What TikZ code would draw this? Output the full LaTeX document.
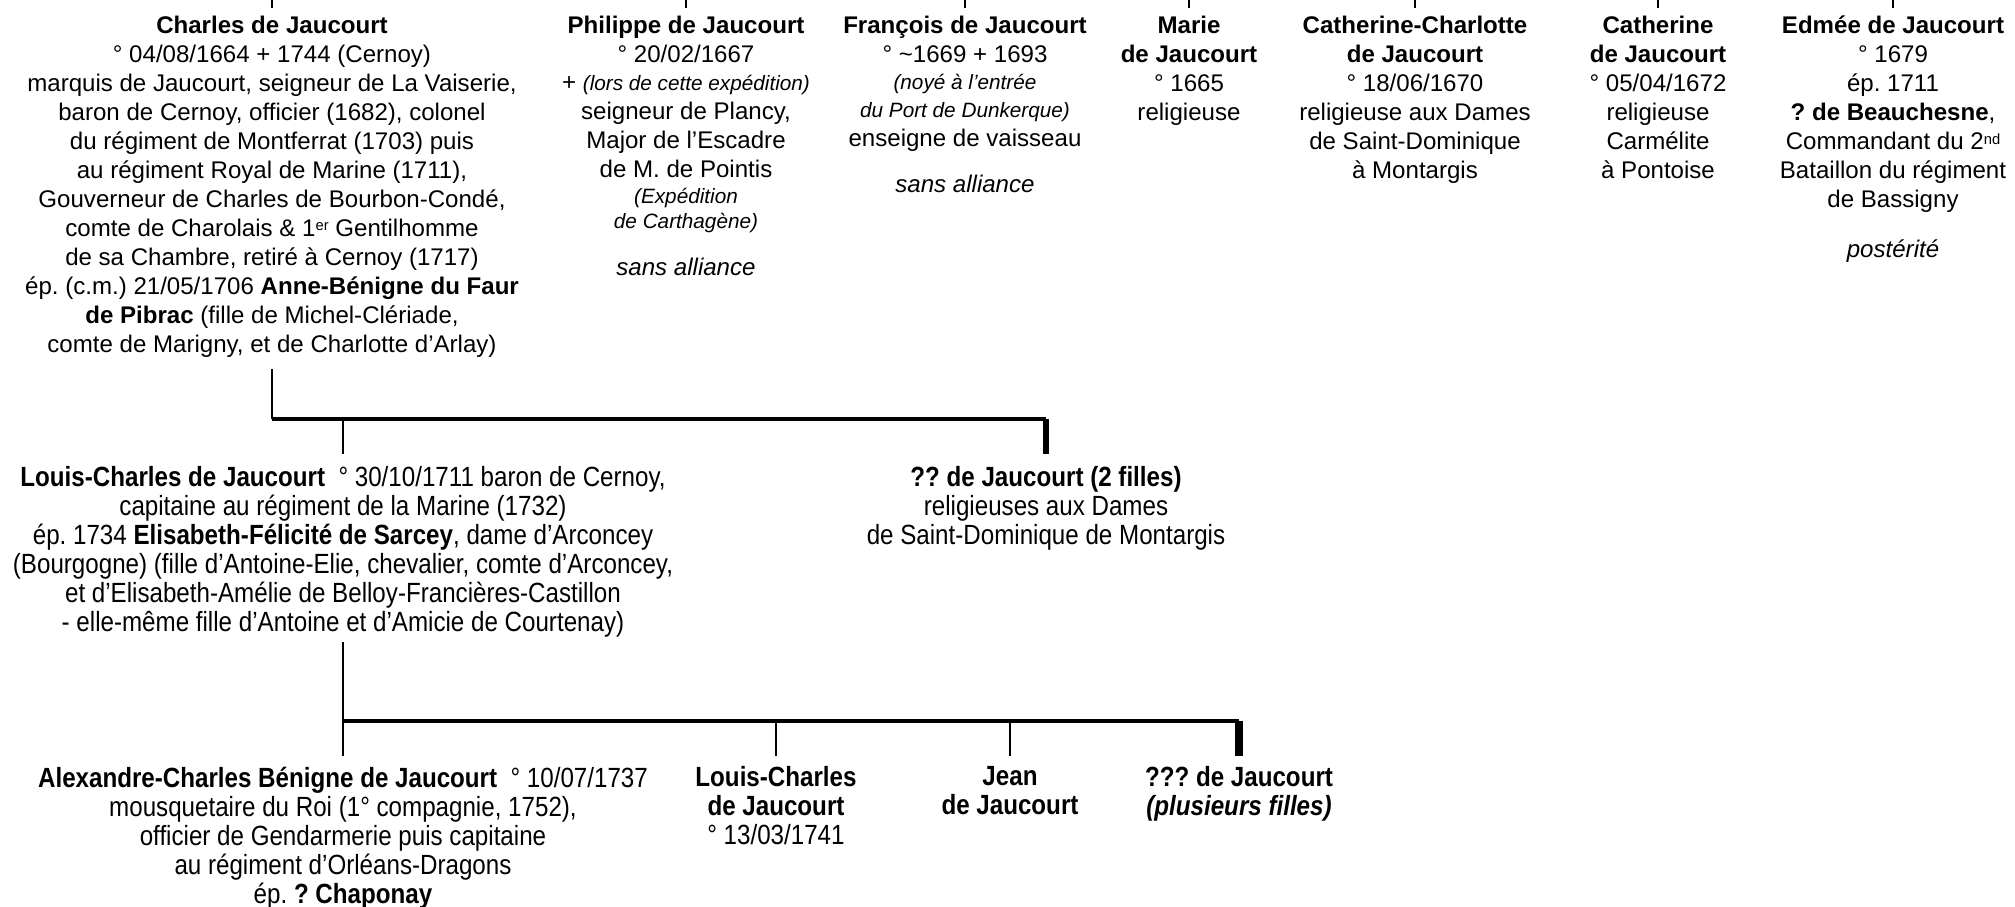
\documentclass[tikz,border=0pt]{standalone}
\usepackage{fontspec}
\setmainfont{Liberation Sans}
\newfontfamily\narrowfont[FakeStretch=0.87]{Liberation Sans}
\usepackage{tikz}
\usetikzlibrary{positioning,calc}

\newcommand{\petit}[1]{{\fontsize{5.9pt}{7.3pt}\selectfont\itshape #1}}
\newcommand{\expo}[1]{\raisebox{0.45ex}{\fontsize{4.2pt}{4.2pt}\selectfont #1}}
\frenchspacing

\begin{document}
\begin{tikzpicture}[
    toprow/.style={anchor=north, align=center, inner sep=0pt, font=\fontsize{6.85pt}{8.25pt}\selectfont\frenchspacing},
    lowrow/.style={anchor=north, align=center, inner sep=0pt, font=\narrowfont\fontsize{7.9pt}{8.25pt}\selectfont\frenchspacing},
    link/.style={line width=0.6pt},
    bar/.style={line width=1pt},
    lastlink/.style={line width=1.5pt}]

\useasboundingbox (0,0) rectangle (20.15,-9.07);

% Generation 1 (children of the previous bar, cut off above)
\node[toprow] (charles) at (2.72,-0.155) {\textbf{Charles de Jaucourt}\\
° 04/08/1664 + 1744 (Cernoy)\\
marquis de Jaucourt, seigneur de La Vaiserie,\\
baron de Cernoy, officier (1682), colonel\\
du régiment de Montferrat (1703) puis\\
au régiment Royal de Marine (1711),\\
Gouverneur de Charles de Bourbon-Condé,\\
comte de Charolais \& 1\expo{er} Gentilhomme\\
de sa Chambre, retiré à Cernoy (1717)\\
ép. (c.m.) 21/05/1706 \textbf{Anne-Bénigne du Faur}\\
\textbf{de Pibrac} (fille de Michel-Clériade,\\
comte de Marigny, et de Charlotte d’Arlay)};

\node[toprow] (philippe) at (6.86,-0.155) {\textbf{Philippe de Jaucourt}\\
° 20/02/1667\\[-0.3pt]
+ \petit{(lors de cette expédition)}\\
seigneur de Plancy,\\
Major de l’Escadre\\
de M. de Pointis\\[-1pt]
\petit{(Expédition}\\[-1pt]
\petit{de Carthagène)}\\[5pt]
\textit{sans alliance}};

\node[toprow] (francois) at (9.65,-0.155) {\textbf{François de Jaucourt}\\
° \textasciitilde1669 + 1693\\[-0.5pt]
\petit{(noyé à l’entrée}\\[-0.5pt]
\petit{du Port de Dunkerque)}\\
enseigne de vaisseau\\[5pt]
\textit{sans alliance}};

\node[toprow] (marie) at (11.89,-0.155) {\textbf{Marie}\\
\textbf{de Jaucourt}\\
° 1665\\
religieuse};

\node[toprow] (cathcharlotte) at (14.15,-0.155) {\textbf{Catherine-Charlotte}\\
\textbf{de Jaucourt}\\
° 18/06/1670\\
religieuse aux Dames\\
de Saint-Dominique\\
à Montargis};

\node[toprow] (catherine) at (16.58,-0.155) {\textbf{Catherine}\\
\textbf{de Jaucourt}\\
° 05/04/1672\\
religieuse\\
Carmélite\\
à Pontoise};

\node[toprow] (edmee) at (18.93,-0.155) {\textbf{Edmée de Jaucourt}\\
° 1679\\
ép. 1711\\
\textbf{? de Beauchesne},\\
Commandant du 2\expo{nd}\\
Bataillon du régiment\\
de Bassigny\\[6pt]
\textit{postérité}};

% Stubs from the bar above
\coordinate (pagetop) at (0,0);
\foreach \n in {charles,philippe,francois,marie,cathcharlotte,catherine,edmee}
  \draw[link] (\n.north |- pagetop) -- ([yshift=0.75mm]\n.north);

% Generation 2
\node[lowrow] (louischarles) at (3.43,-4.66) {\textbf{Louis-Charles de Jaucourt}\ \ ° 30/10/1711 baron de Cernoy,\\
capitaine au régiment de la Marine (1732)\\
ép. 1734 \textbf{Elisabeth-Félicité de Sarcey}, dame d’Arconcey\\
(Bourgogne) (fille d’Antoine-Elie, chevalier, comte d’Arconcey,\\
et d’Elisabeth-Amélie de Belloy-Francières-Castillon\\
- elle-même fille d’Antoine et d’Amicie de Courtenay)};

\node[lowrow] (filles) at (10.46,-4.66) {\textbf{?? de Jaucourt (2 filles)}\\
religieuses aux Dames\\
de Saint-Dominique de Montargis};

\coordinate (barA) at (0,-4.19);
\draw[link] ([yshift=-1.1mm]charles.south) -- (charles.south |- barA);
\draw[bar] (charles.south |- barA) -- (filles.north |- barA);
\draw[link] (louischarles.north |- barA) -- ([yshift=1.2mm]louischarles.north);
\draw[lastlink] (filles.north |- barA) -- ([yshift=1.2mm]filles.north);

% Generation 3
\node[lowrow] (alexandre) at (3.43,-7.66) {\textbf{Alexandre-Charles Bénigne de Jaucourt}\ \ ° 10/07/1737\\
mousquetaire du Roi (1° compagnie, 1752),\\
officier de Gendarmerie puis capitaine\\
au régiment d’Orléans-Dragons\\
ép. \textbf{? Chaponay}};

\node[lowrow] (louischarlesb) at (7.76,-7.66) {\textbf{Louis-Charles}\\
\textbf{de Jaucourt}\\
° 13/03/1741};

\node[lowrow] (jean) at (10.10,-7.66) {\textbf{Jean}\\
\textbf{de Jaucourt}};

\node[lowrow] (plusieurs) at (12.39,-7.66) {\textbf{??? de Jaucourt}\\
\textbf{\textit{(plusieurs filles)}}};

\coordinate (barB) at (0,-7.21);
\draw[link] ([yshift=-0.4mm]louischarles.south) -- (louischarles.south |- barB);
\draw[bar] (louischarles.south |- barB) -- (plusieurs.north |- barB);
\foreach \n in {alexandre,louischarlesb,jean}
  \draw[link] (\n.north |- barB) -- ([yshift=1mm]\n.north);
\draw[lastlink, line width=2.2pt] (plusieurs.north |- barB) -- ([yshift=1mm]plusieurs.north);

\end{tikzpicture}
\end{document}
